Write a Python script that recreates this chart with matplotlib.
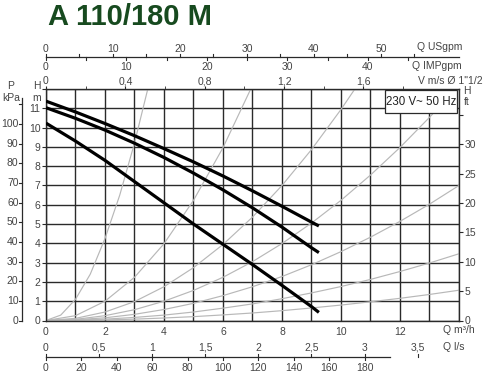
import numpy as np
import matplotlib
matplotlib.use("Agg")
import matplotlib.pyplot as plt
import matplotlib.transforms as mtrans
from matplotlib.lines import Line2D
from matplotlib.patches import Rectangle

# pump curves, Q in m3/h, H in m
pump_q = [0, 1, 2, 3, 4, 5, 6, 7, 8, 9, 9.25]
pump_h_max = [11.37, 10.81, 10.21, 9.58, 8.91, 8.22, 7.49, 6.72, 5.92, 5.10, 4.90]
pump_h_mid = [11.03, 10.48, 9.87, 9.19, 8.45, 7.64, 6.77, 5.84, 4.84, 3.77, 3.52]
pump_h_min = [10.23, 9.30, 8.30, 7.20, 6.10, 5.00, 3.95, 2.90, 1.82, 0.72, 0.42]

# grey system curves
sys_a_q = [0, 0.5, 1, 1.5, 2, 2.5, 3, 3.45]
sys_a_h = [0, 0.28, 1.1, 2.4, 4.25, 6.5, 9.2, 12.0]
sys_b_q = [0, 1, 2, 3, 4, 5, 6, 6.94]
sys_b_h = [0, 0.25, 1.0, 2.24, 3.98, 6.23, 8.96, 12.0]
sys_c_q = [0, 1, 2, 3, 4, 5, 6, 7, 8, 9, 10, 10.47]
sys_c_h = [0, 0.11, 0.44, 0.98, 1.75, 2.74, 3.94, 5.36, 7.0, 8.86, 10.94, 12.0]
sys_d_q = [0, 1, 2, 3, 4, 5, 6, 7, 8, 9, 10, 11, 12, 13, 13.88]
sys_d_h = [0, 0.06, 0.25, 0.56, 1.0, 1.56, 2.24, 3.05, 3.99, 5.05, 6.23, 7.54, 8.97, 10.53, 12.0]
sys_q = [0, 1, 2, 3, 4, 5, 6, 7, 8, 9, 10, 11, 12, 13, 14]
sys_e_h = [0, 0.04, 0.14, 0.32, 0.57, 0.89, 1.29, 1.75, 2.28, 2.89, 3.57, 4.32, 5.14, 6.03, 7.0]
sys_f_h = [0, 0.02, 0.07, 0.16, 0.28, 0.44, 0.64, 0.86, 1.13, 1.43, 1.76, 2.13, 2.54, 2.98, 3.46]
sys_g_h = [0, 0.01, 0.03, 0.07, 0.13, 0.2, 0.29, 0.39, 0.51, 0.65, 0.8, 0.97, 1.15, 1.35, 1.57]

# extra scales
v_major = [0, 0.4, 0.8, 1.2, 1.6]
v_labels = ['0', '0,4', '0,8', '1,2', '1,6']
v_minor = [0.2, 0.6, 1.0, 1.4, 1.8]
usgpm_major = [0, 10, 20, 30, 40, 50]
usgpm_minor = [5, 15, 25, 35, 45, 55]
impgpm_major = [0, 10, 20, 30, 40]
impgpm_minor = [5, 15, 25, 35, 45]
ls_major = [0, 0.5, 1, 1.5, 2, 2.5, 3, 3.5]
ls_labels = ['0', '0,5', '1', '1,5', '2', '2,5', '3', '3,5']
lmin_major = [0, 20, 40, 60, 80, 100, 120, 140, 160, 180]
kpa_ticks = [0, 10, 20, 30, 40, 50, 60, 70, 80, 90, 100, 110]
ft_ticks = [0, 5, 10, 15, 20, 25, 30, 35]

Q_PER_V = 6.725
Q_PER_USGPM = 1 / 4.403
Q_PER_IMPGPM = 1 / 3.666
Q_PER_LS = 3.6
Q_PER_LMIN = 0.06
KPA_PER_M = 9.81
FT_PER_M = 3.281

plt.rcParams['font.family'] = ['Liberation Sans', 'DejaVu Sans']
TXT = '#444444'
LINE = '#2a2a2a'
FS = 7.5
W_PX, H_PX = 485, 375


def fx(px):
    return px / W_PX


def fy(py):
    return 1 - py / H_PX


fig = plt.figure(figsize=(4.85, 3.75), dpi=100)
L, B = fx(46), fy(320.5)
W, H = fx(459) - L, fy(89) - B
ax = fig.add_axes([L, B, W, H])
ax.set_xlim(0, 14)
ax.set_ylim(0, 12)

ax.set_xticks(range(15))
ax.set_xticklabels([str(i) if i % 2 == 0 and i < 14 else '' for i in range(15)])
ax.set_yticks(range(13))
ax.set_yticklabels([str(i) if i < 12 else '' for i in range(13)])
ax.tick_params(axis='x', length=0, pad=5, labelsize=FS, labelcolor=TXT)
ax.tick_params(axis='y', length=3, pad=1, labelsize=FS, labelcolor=TXT, color=LINE)
ax.grid(True, color=LINE, lw=1.0)
for s in ax.spines.values():
    s.set_color(LINE)
    s.set_linewidth(1.0)

grey = dict(color='#b8b8b8', lw=0.85, zorder=2)
ax.plot(sys_a_q, sys_a_h, **grey)
ax.plot(sys_b_q, sys_b_h, **grey)
ax.plot(sys_c_q, sys_c_h, **grey)
ax.plot(sys_d_q, sys_d_h, **grey)
ax.plot(sys_q, sys_e_h, **grey)
ax.plot(sys_q, sys_f_h, **grey)
ax.plot(sys_q, sys_g_h, **grey)

for h in [pump_h_max, pump_h_mid, pump_h_min]:
    ax.plot(pump_q, h, color='black', lw=2.3, solid_capstyle='butt', zorder=4)

# velocity scale on top edge
axt = ax.twiny()
axt.set_xlim(0, 14)
axt.set_xticks(np.array(v_major) * Q_PER_V)
axt.set_xticklabels(v_labels)
axt.set_xticks(np.array(v_minor) * Q_PER_V, minor=True)
axt.tick_params(which='both', direction='out', length=2, pad=0, labelsize=FS,
                labelcolor=TXT, color=LINE)
for s in axt.spines.values():
    s.set_visible(False)

# feet scale on right edge
axr = ax.twinx()
axr.set_ylim(0, 12 * FT_PER_M)
axr.set_yticks(ft_ticks)
axr.set_yticklabels([str(t) if t < 35 else '' for t in ft_ticks])
axr.tick_params(direction='out', length=3, pad=1, labelsize=FS, labelcolor=TXT, color=LINE)
for s in axr.spines.values():
    s.set_visible(False)

# free-standing scales, drawn on the figure: x in Q (m3/h) or y in H (m)
tq = mtrans.blended_transform_factory(ax.transData, fig.transFigure)
th = mtrans.blended_transform_factory(fig.transFigure, ax.transData)


def hline(y_px, q_max):
    fig.add_artist(Line2D([0, q_max], [fy(y_px)] * 2, transform=tq, color=LINE, lw=0.9))


def hticks(qs, labels, y_px, up, length=3, gap=9):
    sign = -1 if up else 1
    for q, s in zip(qs, labels):
        fig.add_artist(Line2D([q, q], [fy(y_px), fy(y_px + sign * length)],
                              transform=tq, color=LINE, lw=0.8))
        if s:
            fig.text(q, fy(y_px + sign * gap), s, transform=tq, ha='center',
                     va='center_baseline', fontsize=FS, color=TXT)


hline(57, 14)
hticks(np.array(usgpm_major) * Q_PER_USGPM, [str(t) for t in usgpm_major], 57, True)
hticks(np.array(usgpm_minor) * Q_PER_USGPM, [''] * len(usgpm_minor), 57, True)
hticks(np.array(impgpm_major) * Q_PER_IMPGPM, [str(t) for t in impgpm_major], 57, False)
hticks(np.array(impgpm_minor) * Q_PER_IMPGPM, [''] * len(impgpm_minor), 57, False)

hline(357, 11.66)
hticks(np.array(ls_major) * Q_PER_LS, ls_labels, 357, True, gap=10)
hticks(np.array(lmin_major) * Q_PER_LMIN, [str(t) for t in lmin_major], 357, False, gap=10)

# kPa scale on the left
kpa_m = np.array(kpa_ticks) / KPA_PER_M
fig.add_artist(Line2D([fx(22)] * 2, [0, 113 / KPA_PER_M], transform=th, color=LINE, lw=0.9))
for m, t in zip(kpa_m, kpa_ticks):
    fig.add_artist(Line2D([fx(19), fx(22)], [m, m], transform=th, color=LINE, lw=0.8))
    if t <= 100:
        fig.text(fx(18.5), m, str(t), transform=th, ha='right', va='center',
                 fontsize=FS, color=TXT)


# unit labels
def lab(x, y, s, ha='center'):
    fig.text(fx(x), fy(y), s, ha=ha, va='center', fontsize=FS, color=TXT)


lab(11, 86, 'P')
lab(11, 98, 'kPa')
lab(37, 86, 'H')
lab(37, 98, 'm')
lab(467, 91, 'H')
lab(467, 102, 'ft')
lab(462, 47, 'Q USgpm', ha='right')
lab(462, 66, 'Q IMPgpm', ha='right')
lab(483, 81, 'V m/s Ø 1"1/2', ha='right')
lab(443, 330, 'Q m³/h', ha='left')
lab(443, 347, 'Q l/s', ha='left')

fig.text(fx(48), fy(25), 'A 110/180 M', ha='left', va='baseline', fontsize=21,
         fontweight='bold', color='#174a1f')

fig.add_artist(Rectangle((fx(385), fy(113)), fx(457) - fx(385), fy(90) - fy(113),
                         transform=fig.transFigure, fc='white', ec=LINE,
                         lw=0.9, zorder=5))
fig.text(fx(421), fy(102), '230 V~ 50 Hz', ha='center', va='center', fontsize=8.3,
         color='#222222', zorder=6)

fig.savefig('out.png', dpi=100)
